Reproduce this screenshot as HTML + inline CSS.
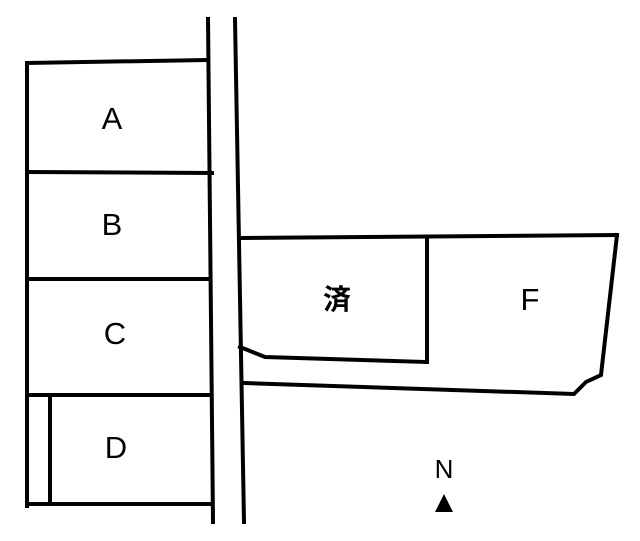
<!DOCTYPE html>
<html><head><style>body{margin:0;background:#fff}svg{display:block}</style></head><body>
<svg width="640" height="541" viewBox="0 0 640 541" xmlns="http://www.w3.org/2000/svg">
<g stroke="#000" stroke-width="4" fill="none" stroke-linecap="square">
<line x1="208" y1="19" x2="213" y2="522"/>
<line x1="235" y1="19" x2="244" y2="522"/>
<line x1="27" y1="63" x2="206" y2="60"/>
<line x1="27" y1="63" x2="27" y2="506"/>
<line x1="28" y1="172" x2="212" y2="173"/>
<line x1="28" y1="279" x2="209" y2="279"/>
<line x1="28" y1="395" x2="211" y2="395"/>
<line x1="28" y1="504" x2="212" y2="504"/>
<line x1="50" y1="397" x2="50" y2="503"/>
<line x1="241" y1="238" x2="617" y2="235"/>
<line x1="427" y1="238" x2="427" y2="362"/>
<polyline points="240,347 265,357 427,362"/>
<polyline points="617,235 601,375 586,382 574,394 244,383"/>
</g>
<g font-family="Liberation Sans, Noto Sans CJK JP, sans-serif" font-size="31" text-anchor="middle">
<text x="112" y="129">A</text>
<text x="112" y="235">B</text>
<text x="115" y="344">C</text>
<text x="116" y="458">D</text>
<text x="337" y="309" font-weight="bold" font-size="28">済</text>
<text x="530" y="310">F</text>
<text x="444" y="478" font-size="26">N</text>
</g>
<polygon points="444,494 435,512 453,512" fill="#000"/>
</svg>
</body></html>
